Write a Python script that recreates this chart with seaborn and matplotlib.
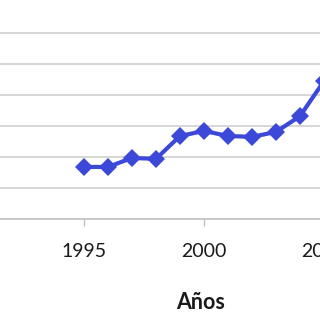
import numpy as np
import pandas as pd
import seaborn as sns
import matplotlib.pyplot as plt

# Data
years = [1995, 1996, 1997, 1998, 1999, 2000, 2001, 2002, 2003, 2004, 2005]
values = [1.68, 1.68, 1.97, 1.94, 2.68, 2.84, 2.68, 2.65, 2.81, 3.32, 4.45]
xticks = [1995, 2000, 2005]
xlabel = 'Años'

df = pd.DataFrame({'year': years, 'value': values})

sns.set_style("white")
plt.rcParams['font.family'] = ['Lato', 'DejaVu Sans']

fig = plt.figure(figsize=(3.2, 3.2), dpi=100)
# the axes is wider than the figure: the picture is a crop of a bigger chart
ax = fig.add_axes([-0.25, 0.3156, 1.375, 0.653])

sns.lineplot(data=df, x='year', y='value', ax=ax, color='#3C48D8',
             linewidth=3, marker='D', markersize=9, markeredgewidth=0)

ax.set_xlim(1988.167, 2006.5)
ax.set_ylim(0, 6.742)
ax.set_yticks([1, 2, 3, 4, 5, 6])
ax.set_xticks(xticks)
ax.yaxis.grid(True, color='#D0D0D0', linewidth=1.2)
ax.set_axisbelow(True)
ax.tick_params(axis='y', left=False, labelleft=False)
ax.tick_params(axis='x', bottom=True, direction='out', length=5, width=1,
               color='#BFBFBF', pad=12.5, labelsize=14, labelcolor='#1a1a1a')

for s in ['top', 'right', 'left']:
    ax.spines[s].set_visible(False)
ax.spines['bottom'].set_color('#BFBFBF')
ax.spines['bottom'].set_linewidth(1.2)

ax.set_ylabel('')
ax.set_xlabel(xlabel, fontsize=15.5, fontweight='bold', color='#1a1a1a')
ax.xaxis.set_label_coords((201 + 80) / 440, -0.35)
ax.xaxis.label.set_verticalalignment('top')

fig.savefig('out.png', dpi=100)
